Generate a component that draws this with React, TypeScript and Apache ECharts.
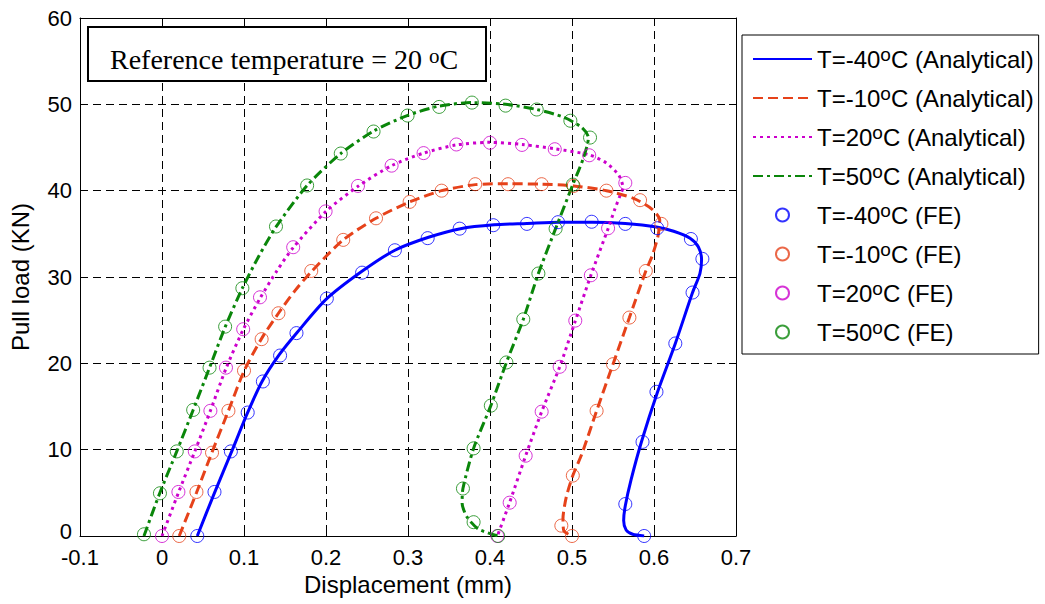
import React, { useEffect, useRef } from "react";
import * as echarts from "echarts";

// ---------- data ----------
const temps = ["-40", "-10", "20", "50"];
const colors = ["#0000ff", "#e6421a", "#cc00cc", "#0a860a"];

const xTickLabels = ["-0.1", "0", "0.1", "0.2", "0.3", "0.4", "0.5", "0.6", "0.7"];
const yTickLabels = ["0", "10", "20", "30", "40", "50", "60"];

// Analytical curves [displacement mm, load kN]
const anaM40 = [
  [0.043, 0], [0.064, 5], [0.085, 9.8], [0.104, 14.2], [0.122, 17.9], [0.143, 21], [0.165, 23.6],
  [0.2, 27.4], [0.243, 30.6], [0.284, 33.1], [0.325, 34.6], [0.364, 35.6], [0.405, 36.05],
  [0.445, 36.2], [0.485, 36.35], [0.525, 36.35], [0.565, 36.2], [0.603, 35.8], [0.624, 35.3],
  [0.644, 34.5], [0.654, 33.5], [0.658, 32.0], [0.656, 30.4], [0.647, 28.2], [0.626, 22.3],
  [0.604, 16.6], [0.585, 11], [0.572, 6.5], [0.565, 3.5], [0.563, 1.8], [0.566, 0.7],
  [0.574, 0.2], [0.588, 0],
];
const anaM10 = [
  [0.021, 0], [0.042, 5], [0.061, 9.7], [0.081, 14.5], [0.1, 19.1], [0.121, 22.8], [0.142, 25.8],
  [0.162, 28.4], [0.182, 30.6], [0.221, 34.3], [0.261, 36.8], [0.302, 38.7], [0.341, 40.0],
  [0.382, 40.7], [0.422, 40.8], [0.463, 40.75], [0.502, 40.55], [0.542, 40.0], [0.575, 39.1],
  [0.597, 37.9], [0.607, 36.6], [0.605, 34.8], [0.598, 32.5], [0.59, 30.7], [0.57, 25.3],
  [0.55, 19.9], [0.53, 14.5], [0.512, 9.5], [0.501, 7.0], [0.493, 4.5], [0.489, 2.0],
  [0.49, 0.6], [0.5, 0],
];
const ana20 = [
  [0, 0], [0.02, 5], [0.04, 9.8], [0.059, 14.5], [0.078, 19.4], [0.099, 23.9], [0.12, 27.6],
  [0.14, 30.7], [0.16, 33.4], [0.2, 37.6], [0.239, 40.5], [0.28, 42.9], [0.319, 44.35],
  [0.359, 45.3], [0.4, 45.6], [0.439, 45.35], [0.479, 44.85], [0.521, 44.15], [0.542, 43.2],
  [0.557, 41.8], [0.562, 40.4], [0.558, 39.3], [0.552, 37.8], [0.544, 35.6], [0.523, 30.2],
  [0.504, 24.9], [0.485, 19.6], [0.463, 14.4], [0.4435, 9.3], [0.424, 3.9], [0.409, 0],
];
const ana50 = [
  [-0.022, 0], [-0.003, 4.9], [0.018, 9.8], [0.038, 14.6], [0.058, 19.5], [0.077, 24.2],
  [0.098, 28.7], [0.118, 32.4], [0.139, 35.8], [0.177, 40.6], [0.218, 44.3], [0.258, 46.9],
  [0.299, 48.7], [0.338, 49.8], [0.378, 50.2], [0.419, 50.0], [0.457, 49.4], [0.49, 48.5],
  [0.512, 47.3], [0.52, 46.15], [0.514, 43.8], [0.501, 40.7], [0.48, 35.6], [0.459, 30.4],
  [0.4406, 25.1], [0.42, 20.1], [0.401, 15.1], [0.38, 10.15], [0.367, 5.5], [0.366, 3.8],
  [0.372, 2.2], [0.386, 0.8], [0.41, 0],
];

// FE results
const feM40 = [
  [0.043, 0], [0.064, 5.1], [0.084, 9.8], [0.1045, 14.3], [0.123, 17.9], [0.144, 20.9],
  [0.164, 23.5], [0.201, 27.5], [0.244, 30.5], [0.284, 33.1], [0.324, 34.5], [0.363, 35.6],
  [0.404, 36.0], [0.445, 36.15], [0.483, 36.35], [0.524, 36.4], [0.565, 36.15], [0.604, 35.65],
  [0.645, 34.4], [0.659, 32.1], [0.647, 28.2], [0.626, 22.3], [0.603, 16.7], [0.586, 10.9],
  [0.565, 3.7], [0.588, 0],
];
const feM10 = [
  [0.021, 0], [0.042, 5.1], [0.061, 9.65], [0.081, 14.5], [0.1, 19.15], [0.1215, 22.8],
  [0.142, 25.8], [0.182, 30.7], [0.221, 34.3], [0.261, 36.8], [0.302, 38.7], [0.341, 40.0],
  [0.382, 40.75], [0.422, 40.75], [0.463, 40.75], [0.502, 40.55], [0.542, 40.0], [0.583, 38.9],
  [0.609, 36.15], [0.59, 30.7], [0.57, 25.3], [0.55, 19.9], [0.53, 14.5], [0.501, 7.0],
  [0.487, 1.2], [0.5, 0],
];
const fe20 = [
  [0.0, 0], [0.02, 5.1], [0.04, 9.8], [0.059, 14.5], [0.078, 19.5], [0.099, 23.95],
  [0.1195, 27.65], [0.16, 33.45], [0.1995, 37.6], [0.239, 40.55], [0.28, 42.9], [0.319, 44.35],
  [0.359, 45.35], [0.4, 45.55], [0.439, 45.3], [0.479, 44.8], [0.521, 44.1], [0.565, 40.9],
  [0.544, 35.65], [0.523, 30.2], [0.504, 24.95], [0.485, 19.6], [0.463, 14.4], [0.4435, 9.3],
  [0.424, 3.86], [0.409, 0],
];
const fe50 = [
  [-0.022, 0.2], [-0.0025, 4.95], [0.018, 9.8], [0.038, 14.6], [0.058, 19.5], [0.077, 24.25],
  [0.098, 28.7], [0.139, 35.85], [0.177, 40.6], [0.218, 44.3], [0.258, 46.85], [0.2995, 48.7],
  [0.338, 49.7], [0.378, 50.2], [0.419, 49.85], [0.457, 49.4], [0.498, 48.1], [0.522, 46.15],
  [0.501, 40.7], [0.48, 35.6], [0.459, 30.4], [0.4406, 25.1], [0.42, 20.1], [0.401, 15.1],
  [0.38, 10.15], [0.367, 5.5], [0.38, 1.6], [0.41, 0],
];

const analytical = [anaM40, anaM10, ana20, ana50];
const feData = [feM40, feM10, fe20, fe50];
const lineDashes: any[] = ["solid", [10, 5], [3, 4], [10, 4, 3, 4]];

const X_MIN = -0.1, X_MAX = 0.7, X_STEP = 0.1;
const Y_MIN = 0, Y_MAX = 60, Y_STEP = 10;

const SANS = "'Liberation Sans', Arial, Helvetica, sans-serif";
const SERIF = "'Liberation Serif', 'Times New Roman', serif";

export default function App() {
  const ref = useRef<HTMLDivElement>(null);

  useEffect(() => {
    if (!ref.current) return;
    const chart = echarts.init(ref.current, null, { renderer: "svg" });

    const anaNames = temps.map((t) => `T=${t}oC (Analytical)`);
    const feNames = temps.map((t) => `T=${t}oC (FE)`);

    const series: any[] = [];
    temps.forEach((_, i) => {
      series.push({
        name: anaNames[i],
        type: "line",
        data: analytical[i],
        symbol: "none",
        showSymbol: false,
        smooth: 0.25,
        lineStyle: { color: colors[i], width: 3, type: lineDashes[i], cap: "butt" },
        itemStyle: { color: colors[i] },
        z: 3,
      });
    });
    temps.forEach((_, i) => {
      series.push({
        name: feNames[i],
        type: "scatter",
        data: feData[i],
        symbol: "circle",
        symbolSize: 13,
        itemStyle: { color: "rgba(255,255,255,0)", borderColor: colors[i], borderWidth: 1 },
        z: 4,
      });
    });

    const gridLine = { show: true, lineStyle: { color: "#000", width: 1, type: [8, 5] } };
    const frameLine = { show: true, onZero: false, lineStyle: { color: "#000", width: 1 } };
    const tick = { show: true, inside: true, length: 7, lineStyle: { color: "#000" } };

    const legendData = [
      ...anaNames.map((n) => ({
        name: n,
        itemStyle: { color: "rgba(0,0,0,0)", borderColor: "rgba(0,0,0,0)", borderWidth: 0, opacity: 0 },
      })),
      ...feNames.map((n) => ({ name: n })),
    ];

    chart.setOption({
      animation: false,
      backgroundColor: "#fff",
      grid: { left: 80, right: 309, top: 18, bottom: 68, containLabel: false },
      xAxis: [
        {
          type: "value",
          min: X_MIN,
          max: X_MAX,
          interval: X_STEP,
          position: "bottom",
          name: "Displacement (mm)",
          nameLocation: "middle",
          nameGap: 36,
          nameTextStyle: { fontFamily: SANS, fontSize: 24, color: "#000" },
          axisLine: frameLine,
          axisTick: tick,
          axisLabel: {
            fontFamily: SANS,
            fontSize: 22,
            lineHeight: 18,
            color: "#000",
            margin: 12,
            formatter: (v: number) => xTickLabels[Math.round((v - X_MIN) / X_STEP)] ?? "",
          },
          splitLine: gridLine,
        },
        {
          type: "value",
          min: X_MIN,
          max: X_MAX,
          interval: X_STEP,
          position: "top",
          axisLine: frameLine,
          axisTick: tick,
          axisLabel: { show: false },
          splitLine: { show: false },
        },
      ],
      yAxis: [
        {
          type: "value",
          min: Y_MIN,
          max: Y_MAX,
          interval: Y_STEP,
          position: "left",
          name: "Pull load (KN)",
          nameLocation: "middle",
          nameGap: 48,
          nameTextStyle: { fontFamily: SANS, fontSize: 24, color: "#000" },
          axisLine: frameLine,
          axisTick: tick,
          axisLabel: {
            fontFamily: SANS,
            fontSize: 22,
            lineHeight: 18,
            color: "#000",
            margin: 8,
            formatter: (v: number) => {
              const lbl = yTickLabels[Math.round((v - Y_MIN) / Y_STEP)] ?? "";
              return v === Y_MIN ? `{b|${lbl}}` : lbl;
            },
            rich: {
              b: { fontFamily: SANS, fontSize: 22, lineHeight: 18, color: "#000", padding: [0, 0, 10, 0] },
            },
          },
          splitLine: gridLine,
        },
        {
          type: "value",
          min: Y_MIN,
          max: Y_MAX,
          interval: Y_STEP,
          position: "right",
          axisLine: frameLine,
          axisTick: tick,
          axisLabel: { show: false },
          splitLine: { show: false },
        },
      ],
      legend: {
        data: legendData,
        orient: "vertical",
        left: 742,
        top: 35,
        padding: [10, 5, 8, 10],
        itemGap: 11,
        itemWidth: 59,
        itemHeight: 13,
        borderColor: "#000",
        borderWidth: 1,
        backgroundColor: "#fff",
        selectedMode: false,
        formatter: (name: string) => name.replace("oC", "{s|o}C"),
        textStyle: {
          fontFamily: SANS,
          fontSize: 24,
          color: "#000",
          lineHeight: 28,
          rich: {
            s: { fontFamily: SANS, fontSize: 19, lineHeight: 17, color: "#000", verticalAlign: "top" },
          },
        },
      },
      graphic: [
        {
          type: "rect",
          shape: { x: 88, y: 27, width: 398, height: 54 },
          style: { fill: "#fff", stroke: "#000", lineWidth: 2 },
          z: 100,
        },
        {
          type: "text",
          x: 110,
          y: 59,
          z: 101,
          style: {
            text: "Reference temperature = 20 {s|o}C",
            fontFamily: SERIF,
            fontSize: 28,
            fill: "#000",
            verticalAlign: "middle",
            align: "left",
            rich: {
              s: { fontFamily: SERIF, fontSize: 21, lineHeight: 18, fill: "#000", verticalAlign: "top" },
            },
          },
        },
      ],
      series,
    });

    return () => chart.dispose();
  }, []);

  return (
    <div
      ref={ref}
      style={{ position: "fixed", left: 0, top: 0, width: 1045, height: 604, background: "#fff" }}
    />
  );
}
